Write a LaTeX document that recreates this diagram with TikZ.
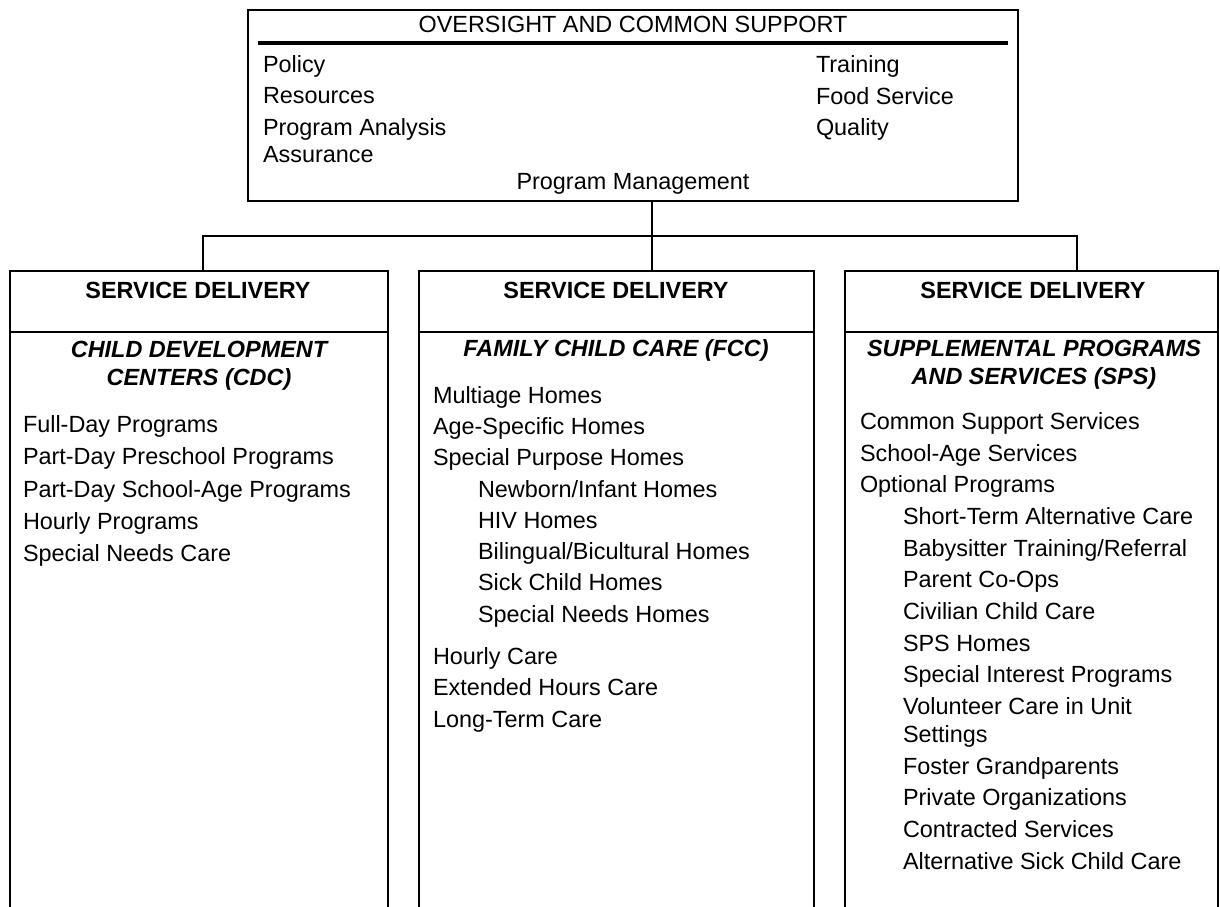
\documentclass[tikz,border=0pt]{standalone}
\usepackage{fontspec}
\setmainfont{Liberation Sans}
\begin{document}
\begin{tikzpicture}[every node/.style={inner sep=0pt,outer sep=0pt},
  box/.style={draw,rectangle,line width=2.5bp},
  txt/.style={font=\fontsize{23.5}{28}\selectfont},
  item/.style={txt,anchor=base west},
  head/.style={anchor=base,font=\fontsize{23.5}{28}\selectfont\bfseries},
  ital/.style={anchor=base,font=\fontsize{23.5}{28}\selectfont\bfseries\itshape},
  link/.style={line width=2.5bp,line join=miter}]
  \useasboundingbox (0bp,0bp) rectangle (1220bp,907bp);
  %% top box
  \node (Oversight) at (633bp,801.5bp) [box,minimum width=770bp,minimum height=191bp] {};
  \node (OCS) at (633bp,874bp) [txt,anchor=base] {OVERSIGHT AND COMMON SUPPORT};
  \draw [line width=3.5bp] ([xshift=10bp,yshift=-33bp]Oversight.north west) -- ([xshift=-10bp,yshift=-33bp]Oversight.north east);
  \node (Policy) at (263bp,834bp) [item] {Policy};
  \node (Res) at (263bp,803bp) [item] {Resources};
  \node (PA) at (263bp,771bp) [item] {Program Analysis};
  \node (Assur) at (263bp,744bp) [item] {Assurance};
  \node (Train) at (816bp,834bp) [item] {Training};
  \node (Food) at (816bp,802bp) [item] {Food Service};
  \node (Qual) at (816bp,771bp) [item] {Quality};
  \node (PM) at (633bp,717bp) [txt,anchor=base] {Program Management};
  %% service delivery boxes
  \node (CDC) at (199bp,314bp) [box,minimum width=378bp,minimum height=644bp] {};
  \node (FCC) at (616.5bp,314bp) [box,minimum width=395bp,minimum height=644bp] {};
  \node (SPS) at (1031.5bp,314bp) [box,minimum width=373bp,minimum height=644bp] {};
  \draw [line width=1.8bp] ([yshift=-61bp]CDC.north west) -- ([yshift=-61bp]CDC.north east);
  \draw [line width=1.8bp] ([yshift=-61bp]FCC.north west) -- ([yshift=-61bp]FCC.north east);
  \draw [line width=1.8bp] ([yshift=-61bp]SPS.north west) -- ([yshift=-61bp]SPS.north east);
  \node (SD1) at (198bp,608bp) [head] {SERVICE DELIVERY};
  \node (SD2) at (616bp,608bp) [head] {SERVICE DELIVERY};
  \node (SD3) at (1033bp,608bp) [head] {SERVICE DELIVERY};
  %% CDC
  \node (CDCa) at (199bp,549bp) [ital] {CHILD DEVELOPMENT};
  \node (CDCb) at (199bp,521bp) [ital] {CENTERS (CDC)};
  \node (FullDay) at (23bp,474bp) [item] {Full-Day Programs};
  \node (PartPre) at (23bp,442bp) [item] {Part-Day Preschool Programs};
  \node (PartSch) at (23bp,409bp) [item] {Part-Day School-Age Programs};
  \node (Hourly) at (23bp,377bp) [item] {Hourly Programs};
  \node (SpecCare) at (23bp,345bp) [item] {Special Needs Care};
  %% FCC
  \node (FCCa) at (616bp,550bp) [ital] {FAMILY CHILD CARE (FCC)};
  \node (Multi) at (433bp,503bp) [item] {Multiage Homes};
  \node (AgeSp) at (433bp,472bp) [item] {Age-Specific Homes};
  \node (SpPur) at (433bp,441bp) [item] {Special Purpose Homes};
  \node (Newb) at (478bp,409bp) [item] {Newborn/Infant Homes};
  \node (HIV) at (478bp,378bp) [item] {HIV Homes};
  \node (Biling) at (478bp,347bp) [item] {Bilingual/Bicultural Homes};
  \node (Sick) at (478bp,316bp) [item] {Sick Child Homes};
  \node (SpNeed) at (478bp,284bp) [item] {Special Needs Homes};
  \node (HrCare) at (433bp,242bp) [item] {Hourly Care};
  \node (ExtHr) at (433bp,211bp) [item] {Extended Hours Care};
  \node (LongT) at (433bp,179bp) [item] {Long-Term Care};
  %% SPS
  \node (SPSa) at (1034bp,550bp) [ital] {SUPPLEMENTAL PROGRAMS};
  \node (SPSb) at (1034bp,522bp) [ital] {AND SERVICES (SPS)};
  \node (ComSup) at (860bp,477bp) [item] {Common Support Services};
  \node (SchAge) at (860bp,445bp) [item] {School-Age Services};
  \node (OptP) at (860bp,414bp) [item] {Optional Programs};
  \node (ShortT) at (903bp,382bp) [item] {Short-Term Alternative Care};
  \node (Baby) at (903bp,350bp) [item] {Babysitter Training/Referral};
  \node (CoOps) at (903bp,319bp) [item] {Parent Co-Ops};
  \node (Civ) at (903bp,287bp) [item] {Civilian Child Care};
  \node (SPSH) at (903bp,255bp) [item] {SPS Homes};
  \node (SpInt) at (903bp,224bp) [item] {Special Interest Programs};
  \node (Volun) at (903bp,192bp) [item] {Volunteer Care in Unit};
  \node (Sett) at (903bp,164bp) [item] {Settings};
  \node (Foster) at (903bp,132bp) [item] {Foster Grandparents};
  \node (Priv) at (903bp,101bp) [item] {Private Organizations};
  \node (Contr) at (903bp,69bp) [item] {Contracted Services};
  \node (AltSick) at (903bp,38bp) [item] {Alternative Sick Child Care};
  %% connectors
  \coordinate (jL) at (203bp,671bp);
  \coordinate (jM) at (652bp,671bp);
  \coordinate (jR) at (1077bp,671bp);
  \draw [link] (Oversight.south -| jM) -- (FCC.north -| jM);
  \draw [link] (CDC.north -| jL) -- (jL) -- (jR) -- (SPS.north -| jR);
\end{tikzpicture}
\end{document}
